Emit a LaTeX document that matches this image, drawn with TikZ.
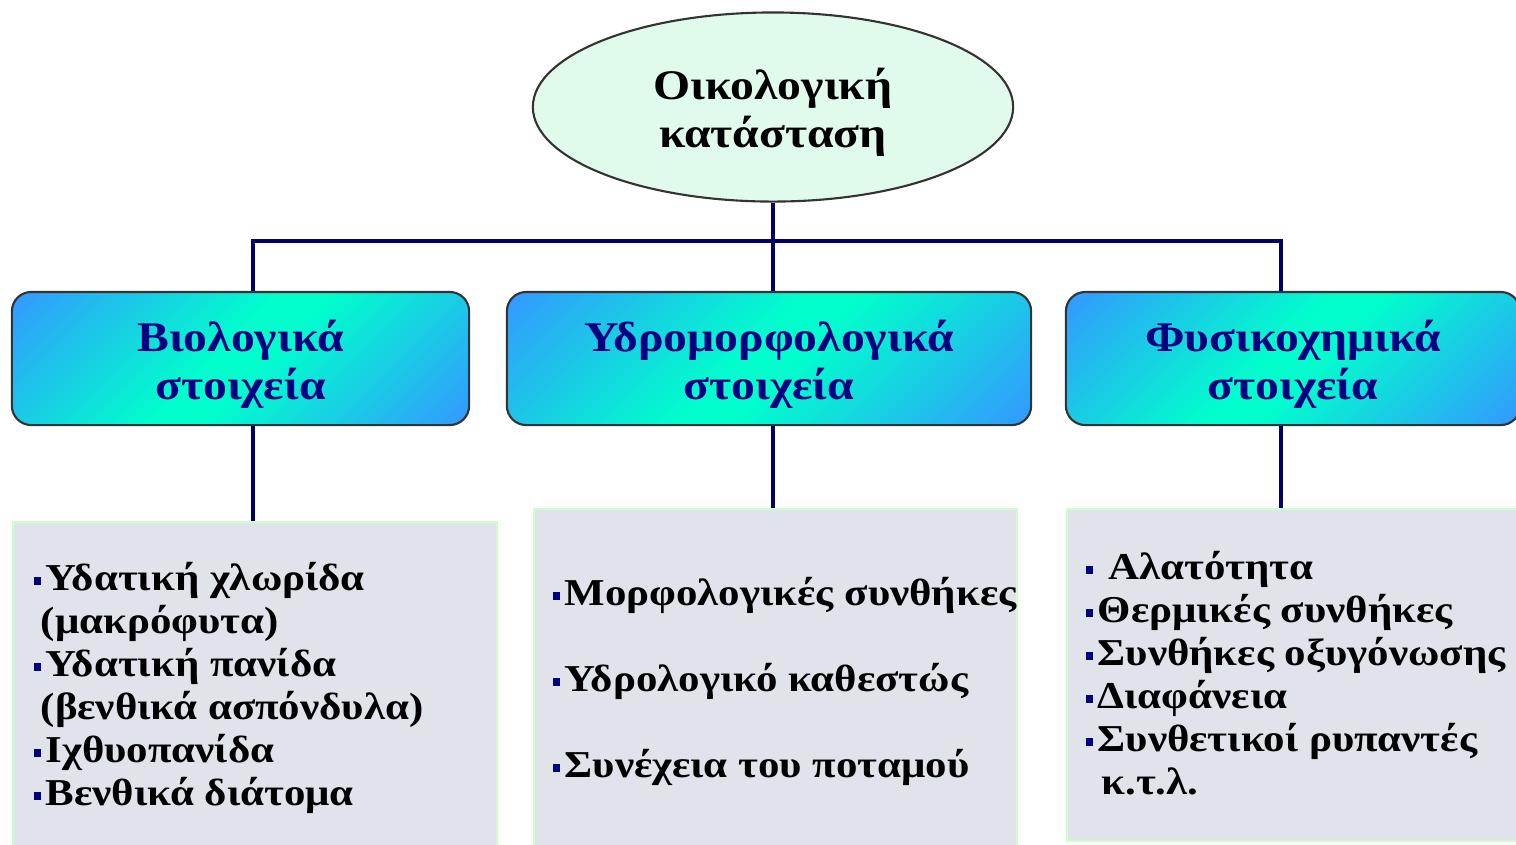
\documentclass[tikz,border=0pt]{standalone}
\usepackage{fontspec}
\setmainfont[FakeStretch=1.13]{Liberation Serif}
\usetikzlibrary{shapes.geometric}

\definecolor{linknavy}{HTML}{000066}
\definecolor{headnavy}{HTML}{000080}
\definecolor{rootfill}{HTML}{E0FAEB}
\definecolor{headblue}{HTML}{3399FF}
\definecolor{headaqua}{HTML}{00FFCC}
\definecolor{listfill}{HTML}{E0E4EA}
\definecolor{listedge}{HTML}{CCFFCC}

\pgfdeclareverticalshading{headshade}{100bp}{color(0bp)=(headblue); color(15bp)=(headblue);
  color(47bp)=(headaqua); color(53bp)=(headaqua); color(85bp)=(headblue); color(100bp)=(headblue)}

% small square bullet
\newcommand{\sqbul}{{\color{headnavy}\rule[1.6pt]{2.2pt}{2.3pt}}\hspace{1.2pt}}
% pushes two-line titles a little down
\newcommand{\topstrut}{\rule{0pt}{12pt}}

\begin{document}
\begin{tikzpicture}[x=0.01cm, y=-0.01cm,
  link/.style={draw=linknavy, line width=1.4pt},
  headbox/.style={draw=black!80, line width=0.6pt, rounded corners=5.5pt,
    shading=headshade, shading angle=45,
    minimum height=1.33cm, inner sep=0pt, align=center, text=headnavy,
    font=\fontsize{12}{13.7}\selectfont\bfseries},
  listbox/.style={draw=listedge, fill=listfill, line width=0.6pt, inner sep=0pt},
  listtext/.style={anchor=north west, inner sep=0pt, align=left,
    font=\fontsize{10.8}{12.2}\selectfont\bfseries}]
  \path[use as bounding box] (0,0) rectangle (1516,844);
  \clip (0,0) rectangle (1516,844);

  \node[ellipse, draw=black!80, line width=0.6pt, fill=rootfill, minimum width=4.8cm,
    minimum height=1.89cm, inner sep=0pt, align=center,
    font=\fontsize{12}{13.7}\selectfont\bfseries] (root) at (773,107) {\topstrut Οικολογική\\κατάσταση};

  \node[headbox, minimum width=4.57cm] (bio) at (240.5,358.5) {\topstrut Βιολογικά\\στοιχεία};
  \node[headbox, minimum width=5.24cm] (hydro) at (769,358.5) {\topstrut Υδρομορφολογικά\\στοιχεία};
  \node[headbox, minimum width=4.54cm] (phys) at (1293,358.5) {\topstrut Φυσικοχημικά\\στοιχεία};

  \node[listbox, anchor=north west, minimum width=4.84cm, minimum height=3.4cm] (bioList) at (12,521) {};
  \node[listbox, anchor=north west, minimum width=4.83cm, minimum height=3.5cm] (hydroList) at (533,508) {};
  \node[listbox, anchor=north west, minimum width=4.7cm, minimum height=3.32cm] (physList) at (1066,508) {};

  \coordinate (jL) at (253,241);
  \coordinate (jM) at (773,241);
  \coordinate (jR) at (1281,241);

  \draw[link] (root.south) -- (jM) -- (jM |- hydro.north);
  \draw[link] (jL |- bio.north) |- (jR) -- (jR |- phys.north);
  \draw[link] (jL |- bio.south) -- (jL |- bioList.north);
  \draw[link] (jM |- hydro.south) -- (jM |- hydroList.north);
  \draw[link] (jR |- phys.south) -- (jR |- physList.north);

  \node[listtext] (bioText) at (33,562) {\sqbul Υδατική χλωρίδα\\
    \hspace*{2pt}(μακρόφυτα)\\
    \sqbul Υδατική πανίδα\\
    \hspace*{2pt}(βενθικά ασπόνδυλα)\\
    \sqbul Ιχθυοπανίδα\\
    \sqbul Βενθικά διάτομα};
  \node[listtext] (hydroText) at (552,577) {\sqbul Μορφολογικές συνθήκες\\[12.2pt]
    \sqbul Υδρολογικό καθεστώς\\[12.2pt]
    \sqbul Συνέχεια του ποταμού};
  \node[listtext] (physText) at (1085,551) {\sqbul\ Αλατότητα\\
    \sqbul Θερμικές συνθήκες\\
    \sqbul Συνθήκες οξυγόνωσης\\
    \sqbul Διαφάνεια\\
    \sqbul Συνθετικοί ρυπαντές\\
    \hspace*{4.5pt}κ.τ.λ.};
\end{tikzpicture}
\end{document}
